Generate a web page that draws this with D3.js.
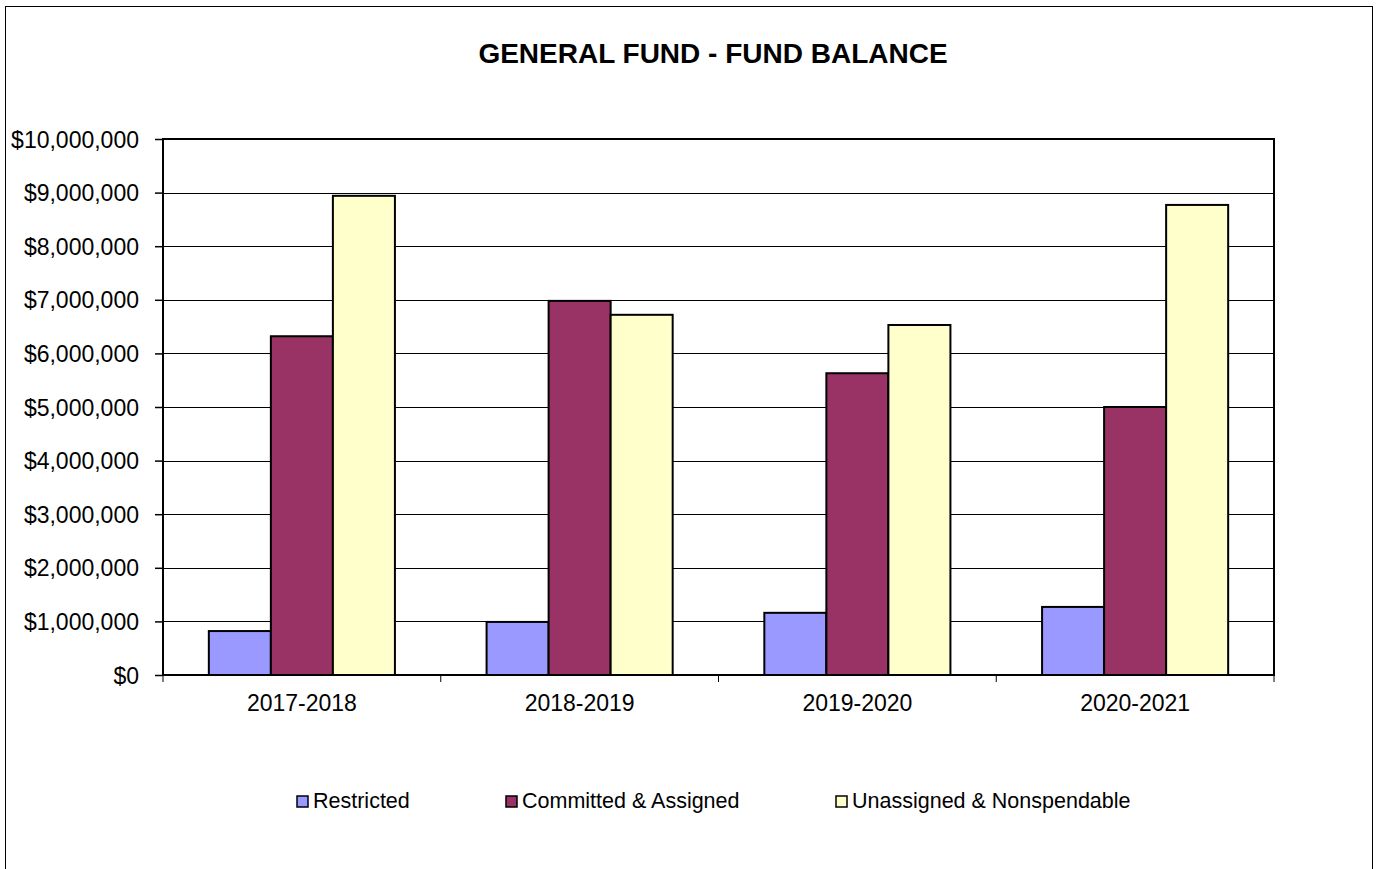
<!DOCTYPE html>
<html>
<head>
<meta charset="utf-8">
<script src="https://cdn.jsdelivr.net/npm/d3@7"></script>
<style>
  body { margin: 0; background: #fff; }
  text { font-family: "Liberation Sans", Arial, sans-serif; fill: #000; }
</style>
</head>
<body>
<svg id="chart" width="1377" height="869"></svg>
<script>
// chart data
var years = ["2017-2018", "2018-2019", "2019-2020", "2020-2021"];
var seriesNames = ["Restricted", "Committed & Assigned", "Unassigned & Nonspendable"];
var restricted = [820000, 990000, 1160000, 1270000];
var committed = [6320000, 6980000, 5630000, 5000000];
var unassigned = [8940000, 6720000, 6530000, 8770000];
var yTicks = [0, 1000000, 2000000, 3000000, 4000000, 5000000, 6000000, 7000000, 8000000, 9000000, 10000000];
var colors = ["#9999FF", "#993366", "#FFFFCC"];

var svg = d3.select("#chart");

// outer frame
svg.append("rect")
  .attr("x", 5.5).attr("y", 6.5)
  .attr("width", 1367).attr("height", 880)
  .style("fill", "none").style("stroke", "#000").style("stroke-width", 1);

svg.append("text")
  .attr("x", 713).attr("y", 63)
  .style("text-anchor", "middle")
  .style("font-weight", "bold")
  .style("font-size", "28px")
  .text("GENERAL FUND - FUND BALANCE");

var margin = {top: 139, left: 163};
var width = 1274 - 163;
var height = 675 - 139;

var g = svg.append("g").attr("transform", "translate(" + margin.left + "," + margin.top + ")");

var y = d3.scaleLinear().domain([0, 10000000]).range([height, 0]);
var x0 = d3.scaleBand().domain(years).range([0, width]).paddingInner(0.33).paddingOuter(0.165);
var x1 = d3.scaleBand().domain(seriesNames).range([0, x0.bandwidth()]);

// gridlines
g.selectAll("line.grid")
  .data(yTicks.slice(1))
  .enter().append("line")
  .attr("class", "grid")
  .attr("x1", 0).attr("x2", width)
  .attr("y1", function(d){ return Math.round(y(d)) + 0.5 })
  .attr("y2", function(d){ return Math.round(y(d)) + 0.5 })
  .style("stroke", "#000").style("stroke-width", 1);

// y axis
var fmt = function(d){ return "$" + d3.format(",")(d) };
var yAxis = g.append("g")
  .call(d3.axisLeft(y).tickValues(yTicks).tickFormat(fmt).tickSize(8).tickPadding(16));
yAxis.select(".domain").remove();
yAxis.selectAll("line").style("stroke", "#000").style("stroke-width", 1.5);
yAxis.selectAll("text").style("font-size", "23px").attr("dy", "0.35em");

// bars
var data = years.map(function(yr, i){
  return [restricted[i], committed[i], unassigned[i]];
});

var groups = g.selectAll("g.year")
  .data(data)
  .enter().append("g")
  .attr("class", "year")
  .attr("transform", function(d, i){ return "translate(" + x0(years[i]) + ",0)" });

groups.selectAll("rect")
  .data(function(d){ return d })
  .enter().append("rect")
  .attr("x", function(d, i){ return x1(seriesNames[i]) })
  .attr("width", x1.bandwidth())
  .attr("y", function(d){ return y(d) })
  .attr("height", function(d){ return height - y(d) })
  .style("fill", function(d, i){ return colors[i] })
  .style("stroke", "#000").style("stroke-width", 2);

// plot border
g.append("rect")
  .attr("x", 0).attr("y", 0)
  .attr("width", width).attr("height", height)
  .style("fill", "none").style("stroke", "#000").style("stroke-width", 2);

// x axis: ticks at category boundaries
var bounds = d3.range(years.length + 1).map(function(i){ return i * x0.step() });
g.selectAll("line.xtick")
  .data(bounds)
  .enter().append("line")
  .attr("x1", function(d){ return d }).attr("x2", function(d){ return d })
  .attr("y1", height).attr("y2", height + 7)
  .style("stroke", "#000").style("stroke-width", 1);

g.selectAll("text.xlab")
  .data(years)
  .enter().append("text")
  .attr("x", function(d){ return x0(d) + x0.bandwidth() / 2 })
  .attr("y", height + 36)
  .style("text-anchor", "middle")
  .style("font-size", "23px")
  .text(function(d){ return d });

// legend
var legendX = [297, 506, 836];
var legend = svg.append("g");
var items = legend.selectAll("g")
  .data(seriesNames)
  .enter().append("g")
  .attr("transform", function(d, i){ return "translate(" + legendX[i] + ",796)" });
items.append("rect")
  .attr("width", 11).attr("height", 11)
  .style("fill", function(d, i){ return colors[i] })
  .style("stroke", "#000").style("stroke-width", 1.5);
items.append("text")
  .attr("x", 16).attr("y", 12)
  .style("font-size", "21.5px")
  .text(function(d){ return d });
</script>
</body>
</html>
